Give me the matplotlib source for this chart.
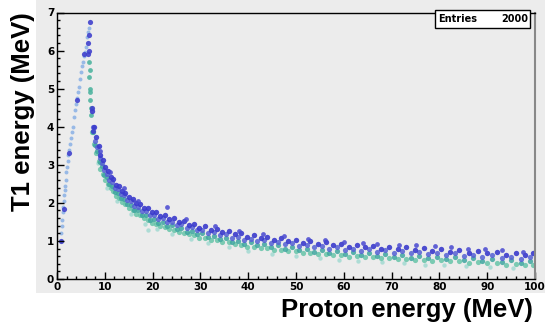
import numpy as np
import matplotlib.pyplot as plt
from matplotlib.patches import Rectangle
from matplotlib.ticker import MultipleLocator

# rising branch (light blue points)
rise_x = [0.8, 0.9, 1.0, 1.1, 1.2, 1.3, 1.4, 1.5, 1.6, 1.7, 1.8, 1.9, 2.0, 2.2, 2.4, 2.6, 2.8, 3.0,
          3.2, 3.4, 3.6, 3.8, 4.0, 4.2, 4.4, 4.6, 4.8, 5.0, 5.2, 5.4, 5.6, 5.8, 6.0, 6.2, 6.4, 6.6]
rise_y = [1.0, 1.2, 1.4, 1.55, 1.75, 1.9, 2.05, 2.2, 2.35, 2.45, 2.6, 2.8, 2.95, 3.1, 3.25, 3.4, 3.55, 3.7,
          3.85, 4.0, 4.25, 4.45, 4.6, 4.75, 4.9, 5.05, 5.25, 5.45, 5.6, 5.7, 5.85, 5.95, 6.1, 6.35, 6.5, 6.6]

# points around the peak
peak_blue_x = [6.8, 6.6, 6.5, 6.7, 6.4, 0.8, 1.4, 2.5, 4.2, 5.7, 7.3, 7.5]
peak_blue_y = [6.75, 6.4, 6.2, 6.0, 5.9, 1.0, 1.85, 3.3, 4.7, 5.9, 4.5, 3.9]
peak_teal_x = [6.7, 6.8, 6.6, 6.8, 6.9, 7.0, 7.1, 7.2]
peak_teal_y = [5.7, 5.5, 5.3, 5.0, 4.9, 4.7, 4.5, 4.3]

# falling band, sampled on two x grids
xa = [7.4, 7.8, 8.2, 8.7, 9.1, 9.6, 10.1, 10.7, 11.2, 11.8, 12.4, 13.0, 13.7, 14.3, 15.0, 15.8,
      16.5, 17.3, 18.1, 19.0, 19.8, 20.7, 21.6, 22.5, 23.5, 24.5, 25.5, 26.5, 27.6, 28.7, 29.8,
      31.0, 32.2, 33.4, 34.6, 35.9, 37.2, 38.5, 39.8, 41.2, 42.6, 44.0, 45.4, 46.9, 48.4, 49.9,
      51.4, 53.0, 54.6, 56.2, 57.8, 59.4, 61.0, 62.7, 64.4, 66.1, 67.8, 69.5, 71.3, 73.1, 74.9,
      76.7, 78.5, 80.4, 82.3, 84.2, 86.1, 88.0, 90.0, 92.0, 94.0, 96.0, 98.0, 99.5]
blue_top = [4.4, 4.0, 3.72, 3.5, 3.27, 3.12, 2.94, 2.84, 2.68, 2.62, 2.48, 2.44, 2.3, 2.27, 2.15, 2.11,
            1.99, 1.98, 1.87, 1.86, 1.75, 1.75, 1.66, 1.67, 1.58, 1.59, 1.5, 1.52, 1.43, 1.45, 1.35,
            1.38, 1.29, 1.32, 1.23, 1.26, 1.17, 1.2, 1.11, 1.15, 1.07, 1.11, 1.03, 1.07, 0.99, 1.03,
            0.95, 0.99, 0.91, 0.96, 0.88, 0.93, 0.85, 0.9, 0.83, 0.87, 0.8, 0.85, 0.78, 0.83, 0.76,
            0.81, 0.74, 0.79, 0.72, 0.76, 0.69, 0.74, 0.67, 0.72, 0.64, 0.69, 0.62, 0.67]
teal_low = [3.85, 3.55, 3.3, 3.1, 2.9, 2.76, 2.6, 2.5, 2.38, 2.3, 2.19, 2.12, 2.02, 1.96, 1.86, 1.8,
            1.72, 1.67, 1.59, 1.55, 1.48, 1.45, 1.39, 1.37, 1.31, 1.29, 1.24, 1.22, 1.17, 1.15, 1.09,
            1.08, 1.03, 1.02, 0.97, 0.96, 0.91, 0.9, 0.85, 0.85, 0.81, 0.81, 0.77, 0.77, 0.73, 0.73,
            0.69, 0.69, 0.65, 0.66, 0.62, 0.63, 0.59, 0.6, 0.57, 0.57, 0.54, 0.55, 0.52, 0.53, 0.5,
            0.51, 0.48, 0.49, 0.46, 0.46, 0.43, 0.44, 0.41, 0.42, 0.38, 0.39, 0.36, 0.37]

xb = [7.6, 8.0, 8.4, 8.9, 9.4, 9.9, 10.4, 10.9, 11.5, 12.1, 12.7, 13.4, 14.0, 14.7, 15.4, 16.2,
      16.9, 17.7, 18.6, 19.4, 20.3, 21.2, 22.1, 23.0, 24.0, 25.0, 26.0, 27.1, 28.2, 29.3, 30.4,
      31.6, 32.8, 34.0, 35.3, 36.6, 37.9, 39.2, 40.5, 41.9, 43.3, 44.7, 46.2, 47.7, 49.2, 50.7,
      52.2, 53.8, 55.4, 57.0, 58.6, 60.2, 61.9, 63.6, 65.3, 67.0, 68.7, 70.4, 72.2, 74.0, 75.8,
      77.6, 79.5, 81.4, 83.3, 85.2, 87.1, 89.0, 91.0, 93.0, 95.0, 97.0, 99.0]
blue_mid = [3.98, 3.63, 3.46, 3.18, 3.06, 2.85, 2.77, 2.6, 2.55, 2.4, 2.37, 2.23, 2.2, 2.07, 2.04,
            1.92, 1.9, 1.79, 1.78, 1.67, 1.68, 1.58, 1.59, 1.5, 1.51, 1.42, 1.44, 1.35, 1.37, 1.28,
            1.3, 1.21, 1.23, 1.15, 1.17, 1.09, 1.11, 1.03, 1.06, 0.99, 1.02, 0.95, 0.98, 0.91, 0.94,
            0.87, 0.9, 0.83, 0.86, 0.8, 0.83, 0.77, 0.8, 0.74, 0.78, 0.71, 0.75, 0.69, 0.73, 0.67,
            0.71, 0.65, 0.69, 0.63, 0.67, 0.6, 0.64, 0.58, 0.62, 0.56, 0.59, 0.53, 0.57]
teal_mid = [3.85, 3.52, 3.36, 3.07, 2.96, 2.74, 2.67, 2.49, 2.45, 2.29, 2.27, 2.12, 2.1, 1.96, 1.94,
            1.81, 1.8, 1.68, 1.68, 1.56, 1.58, 1.47, 1.49, 1.39, 1.41, 1.31, 1.34, 1.24, 1.27, 1.17,
            1.2, 1.1, 1.13, 1.04, 1.07, 0.98, 1.01, 0.92, 0.96, 0.88, 0.92, 0.84, 0.88, 0.8, 0.84,
            0.76, 0.8, 0.72, 0.76, 0.69, 0.73, 0.66, 0.7, 0.63, 0.68, 0.6, 0.65, 0.58, 0.63, 0.56,
            0.61, 0.54, 0.59, 0.52, 0.57, 0.49, 0.54, 0.47, 0.52, 0.45, 0.49, 0.42, 0.47]

# sparse points above and below the band
out_hi_x = [9.0, 11.0, 14.0, 17.0, 23.0, 27.0, 33.0, 38.0, 43.0, 47.5, 52.5, 56.0, 60.0, 64.0,
            67.0, 71.5, 75.0, 79.0, 82.5, 86.0, 89.5, 93.0, 97.5]
out_hi_y = [3.35, 2.8, 2.38, 2.06, 1.88, 1.57, 1.4, 1.27, 1.19, 1.12, 1.05, 1.02, 0.98, 0.95,
            0.93, 0.9, 0.88, 0.86, 0.83, 0.8, 0.78, 0.75, 0.72]
out_lo_x = [8.5, 10.5, 12.5, 15.5, 18.5, 21.0, 24.0, 28.0, 31.5, 36.0, 40.0, 45.0, 50.0, 55.0,
            59.0, 63.0, 68.0, 72.5, 77.0, 81.0, 85.5, 90.5, 95.5, 19.0]
out_lo_y = [3.05, 2.4, 2.06, 1.7, 1.45, 1.31, 1.18, 1.04, 0.94, 0.83, 0.74, 0.66, 0.6, 0.55,
            0.5, 0.47, 0.44, 0.41, 0.38, 0.36, 0.33, 0.31, 0.29, 1.3]

entries = 2000

BG = '#ececec'
fig = plt.figure(figsize=(5.45, 3.23), dpi=100)
fig.patch.set_facecolor('white')
# grey pad behind the frame
fig.patches.append(Rectangle((36 / 545, 30 / 323), 1 - 36 / 545, 1 - 30 / 323,
                             transform=fig.transFigure, facecolor=BG, edgecolor='none', zorder=-10))

ax = fig.add_axes([57 / 545, 44 / 323, 478 / 545, 266.5 / 323])
ax.set_facecolor(BG)

ax.scatter(rise_x, rise_y, s=8, color='#8fb4e6', alpha=0.9, linewidths=0)
ax.scatter(out_lo_x, out_lo_y, s=10, color='#9ed8d0', alpha=0.8, linewidths=0)
ax.scatter(xa, teal_low, s=14, color='#66c4a8', alpha=0.85, linewidths=0)
ax.scatter(xb, teal_mid, s=14, color='#3fa6a0', alpha=0.85, linewidths=0)
ax.scatter(peak_teal_x, peak_teal_y, s=12, color='#4fb4a0', alpha=0.9, linewidths=0)
ax.scatter(xb, blue_mid, s=14, color='#5560d4', alpha=0.85, linewidths=0)
ax.scatter(xa, blue_top, s=15, color='#3a3acc', alpha=0.9, linewidths=0)
ax.scatter(out_hi_x, out_hi_y, s=12, color='#4848d0', alpha=0.85, linewidths=0)
ax.scatter(peak_blue_x, peak_blue_y, s=14, color='#4040cc', alpha=0.9, linewidths=0)

ax.set_xlim(0, 100)
ax.set_ylim(0, 7)
ax.xaxis.set_major_locator(MultipleLocator(10))
ax.xaxis.set_minor_locator(MultipleLocator(2))
ax.yaxis.set_major_locator(MultipleLocator(1))
ax.yaxis.set_minor_locator(MultipleLocator(0.2))
ax.tick_params(which='both', direction='in', top=False, right=False, width=1, colors='black')
ax.tick_params(which='major', length=5, labelsize=7.5, pad=2)
ax.tick_params(which='minor', length=2.5)
for lab in ax.get_xticklabels() + ax.get_yticklabels():
    lab.set_fontweight('bold')
for s in ['left', 'bottom', 'top']:
    ax.spines[s].set_color('black')
    ax.spines[s].set_linewidth(1)
ax.spines['right'].set_color('#888888')
ax.spines['right'].set_linewidth(1.5)

# stats box
fig.patches.append(Rectangle((435 / 545, 1 - 28 / 323), 95 / 545, 18 / 323,
                             transform=fig.transFigure, facecolor='white', edgecolor='black',
                             linewidth=1, zorder=5))
fig.text(438 / 545, 1 - 19 / 323, 'Entries', fontsize=7, fontweight='bold',
         va='center', ha='left', zorder=6)
fig.text(528 / 545, 1 - 19 / 323, str(entries), fontsize=7, fontweight='bold',
         va='center', ha='right', zorder=6)

fig.text(533 / 545, 6 / 323, 'Proton energy (MeV)', fontsize=18.5, fontweight='bold',
         family='Liberation Sans', ha='right', va='baseline')
fig.text(23 / 545, 1 - 112 / 323, 'T1 energy (MeV)', fontsize=18.5, fontweight='bold',
         family='Liberation Sans', ha='center', va='center', rotation=90)

fig.savefig('out.png', dpi=100)
